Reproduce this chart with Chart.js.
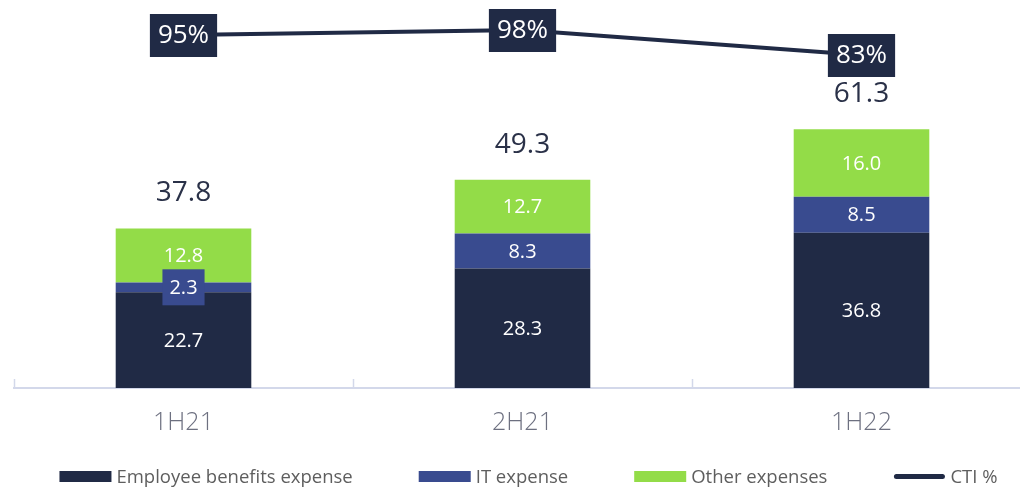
<!DOCTYPE html>
<html>
<head>
<meta charset="utf-8">
<script src="https://cdn.jsdelivr.net/npm/chart.js@4/dist/chart.umd.min.js"></script>
<style>
html,body{margin:0;padding:0;background:#fff;overflow:hidden;}
#wrap{width:1044px;height:487px;}
</style>
</head>
<body>
<div id="wrap"><canvas id="c" width="1044" height="487"></canvas></div>
<script>
const categories = ['1H21', '2H21', '1H22'];
const employeeExpense = [22.7, 28.3, 36.8];
const itExpense = [2.3, 8.3, 8.5];
const otherExpenses = [12.8, 12.7, 16.0];
const ctiPercent = [95, 98, 83];
const seriesNames = ['Employee benefits expense', 'IT expense', 'Other expenses', 'CTI %'];

const C_EMP = '#202a45', C_IT = '#394b8f', C_OTHER = '#93dc48', C_LINE = '#202a45';
const NUM_FONT = "'Open Sans', 'Noto Sans', sans-serif";

const labelPlugin = {
  id: 'labels',
  afterDatasetsDraw(chart) {
    const ctx = chart.ctx;
    const xs = chart.scales.x;
    // tick marks between categories
    ctx.save();
    ctx.strokeStyle = '#d3d8ea';
    ctx.lineWidth = 1.5;
    const n = categories.length;
    for (let i = 0; i <= n; i++) {
      const x = Math.round(xs.left + i * xs.width / n) + 0.5;
      ctx.beginPath();
      ctx.moveTo(x, xs.top - 9);
      ctx.lineTo(x, xs.top);
      ctx.stroke();
    }
    ctx.restore();
    // bar segment labels
    ctx.save();
    ctx.textAlign = 'center';
    ctx.textBaseline = 'middle';
    ctx.font = `20px ${NUM_FONT}`;
    [0, 1, 2].forEach(di => {
      const meta = chart.getDatasetMeta(di);
      const data = chart.data.datasets[di].data;
      meta.data.forEach((bar, i) => {
        const h = Math.abs(bar.base - bar.y);
        const cy = (bar.y + bar.base) / 2;
        const txt = data[i].toFixed(1);
        if (h < 22) {
          const w = ctx.measureText(txt).width + 14;
          ctx.fillStyle = chart.data.datasets[di].backgroundColor;
          ctx.fillRect(bar.x - w / 2, cy - 18, w, 36);
        }
        ctx.fillStyle = '#ffffff';
        ctx.fillText(txt, bar.x, cy + 1);
      });
    });
    // totals
    ctx.font = `28px ${NUM_FONT}`;
    ctx.fillStyle = '#2a3148';
    const topMeta = chart.getDatasetMeta(2);
    topMeta.data.forEach((bar, i) => {
      const total = employeeExpense[i] + itExpense[i] + otherExpenses[i];
      ctx.fillText(total.toFixed(1), bar.x, bar.y - 35);
    });
    // CTI labels
    ctx.font = `26px ${NUM_FONT}`;
    const lineMeta = chart.getDatasetMeta(3);
    lineMeta.data.forEach((pt, i) => {
      const txt = ctiPercent[i] + '%';
      const w = ctx.measureText(txt).width + 16;
      ctx.fillStyle = C_LINE;
      ctx.fillRect(pt.x - w / 2, pt.y - 21, w, 43);
      ctx.fillStyle = '#ffffff';
      ctx.fillText(txt, pt.x, pt.y + 1);
    });
    ctx.restore();
  },
  afterDraw(chart) {
    // legend
    const ctx = chart.ctx;
    ctx.save();
    ctx.font = `18.5px ${NUM_FONT}`;
    ctx.textBaseline = 'middle';
    ctx.textAlign = 'left';
    const boxW = 52, boxH = 11, gapText = 5, gapItem = 66;
    const ds = chart.data.datasets;
    const widths = ds.map(d => boxW + gapText + ctx.measureText(d.label).width);
    const total = widths.reduce((a, b) => a + b, 0) + gapItem * (ds.length - 1);
    const ca = chart.chartArea;
    let x = (ca.left + ca.right) / 2 + 6 - total / 2;
    const y = 476.5;
    ds.forEach((d, i) => {
      if (d.type === 'line') {
        ctx.strokeStyle = d.borderColor;
        ctx.lineWidth = 5;
        ctx.lineCap = 'round';
        ctx.beginPath();
        ctx.moveTo(x + 3, y);
        ctx.lineTo(x + boxW - 3, y);
        ctx.stroke();
      } else {
        ctx.fillStyle = d.backgroundColor;
        ctx.fillRect(x, y - boxH / 2, boxW, boxH);
      }
      ctx.fillStyle = '#5e5e5e';
      ctx.fillText(d.label, x + boxW + gapText, y + 1);
      x += widths[i] + gapItem;
    });
    ctx.restore();
  }
};

new Chart(document.getElementById('c'), {
  type: 'bar',
  data: {
    labels: categories,
    datasets: [
      { label: seriesNames[0], data: employeeExpense, backgroundColor: C_EMP, stack: 's', yAxisID: 'y', barPercentage: 0.4, categoryPercentage: 1 },
      { label: seriesNames[1], data: itExpense, backgroundColor: C_IT, stack: 's', yAxisID: 'y', barPercentage: 0.4, categoryPercentage: 1 },
      { label: seriesNames[2], data: otherExpenses, backgroundColor: C_OTHER, stack: 's', yAxisID: 'y', barPercentage: 0.4, categoryPercentage: 1 },
      { type: 'line', label: seriesNames[3], data: ctiPercent, borderColor: C_LINE, backgroundColor: C_LINE, borderWidth: 4, borderCapStyle: 'round', pointRadius: 0, pointHoverRadius: 0, yAxisID: 'y2', tension: 0 }
    ]
  },
  options: {
    responsive: false,
    animation: false,
    events: [],
    layout: { padding: { left: 14, right: 13, top: 0, bottom: 37 } },
    scales: {
      x: {
        stacked: true,
        grid: { display: false },
        border: { display: true, color: '#d3d8ea', width: 2 },
        ticks: { color: '#6d7080', font: { size: 25, family: NUM_FONT, weight: '300' }, padding: 12 }
      },
      y: { stacked: true, display: false, min: 0, max: 91.9 },
      y2: { display: false, min: -116.8, max: 116 }
    },
    plugins: {
      tooltip: { enabled: false },
      legend: { display: false }
    }
  },
  plugins: [labelPlugin]
});
</script>
</body>
</html>
